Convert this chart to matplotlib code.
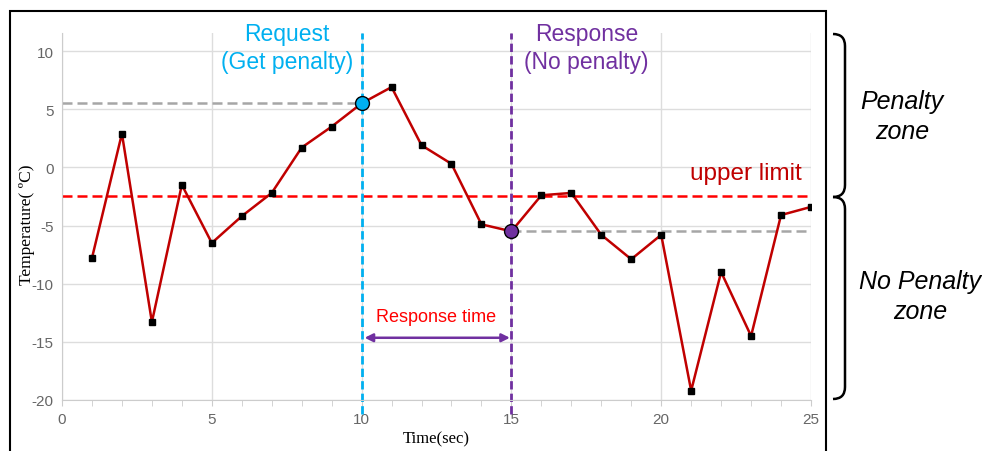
import matplotlib
matplotlib.use("Agg")
import matplotlib.pyplot as plt
from matplotlib.path import Path
from matplotlib.patches import PathPatch, Rectangle

# readings from the chart
time_s = list(range(1, 26))
temperature = [-7.8, 2.9, -13.3, -1.5, -6.5, -4.2, -2.2, 1.7, 3.5, 5.5,
               6.9, 1.9, 0.3, -4.9, -5.5, -2.4, -2.2, -5.8, -7.9, -5.8,
               -19.2, -9.0, -14.5, -4.1, -3.4]
upper_limit = -2.5
request_t = 10
response_t = 15
x_ticks = [0, 5, 10, 15, 20, 25]
y_ticks = [-20, -15, -10, -5, 0, 5, 10]

W, H = 982, 452
plt.rcParams['font.family'] = ['Liberation Sans', 'DejaVu Sans']
plt.rcParams['axes.unicode_minus'] = False

fig = plt.figure(figsize=(W / 100, H / 100), dpi=100)
ax = fig.add_axes([62 / W, 1 - 401 / H, (811 - 62) / W, (401 - 34) / H])


def px(x, y):
    return (x / W, 1 - y / H)


ax.set_xlim(0, 25)
ax.set_ylim(-20, 11.55)
ax.set_xticks(x_ticks)
ax.set_xticks(time_s, minor=True)
ax.set_yticks(y_ticks)
ax.grid(True, color='#dddddd', linewidth=1)
ax.set_axisbelow(True)
for s in ['top', 'right']:
    ax.spines[s].set_visible(False)
for s in ['left', 'bottom']:
    ax.spines[s].set_color('#cccccc')
ax.tick_params(axis='x', which='both', length=4, color='#cccccc',
               labelsize=11, labelcolor='#666666', pad=5)
ax.tick_params(axis='y', length=0, labelsize=11, labelcolor='#666666', pad=6)

ax.set_xlabel('Time(sec)', family='Liberation Serif', fontsize=12)
ax.xaxis.set_label_coords(0.5, -0.082)
ax.set_ylabel('Temperature( ºC)', family='Liberation Serif', fontsize=12.5)
ax.yaxis.set_label_coords(-0.036, 0.48)

# reference lines
ax.axhline(upper_limit, color='#ff0000', linestyle=(0, (4, 2)), linewidth=1.8)
ax.plot([0, request_t], [temperature[request_t - 1]] * 2, color='#a6a6a6',
        linestyle=(0, (4, 2)), linewidth=1.8)
ax.plot([response_t, 25], [temperature[response_t - 1]] * 2, color='#a6a6a6',
        linestyle=(0, (4, 2)), linewidth=1.8)
ax.axvline(request_t, ymin=-0.038, ymax=1, color='#00b0f0',
           linestyle=(0, (3, 1.5)), linewidth=2, clip_on=False)
ax.axvline(response_t, ymin=-0.038, ymax=1, color='#7030a0',
           linestyle=(0, (3, 1.5)), linewidth=2, clip_on=False)

# data
ax.plot(time_s, temperature, color='#c00000', linewidth=1.8, zorder=4)
ax.plot(time_s, temperature, 's', color='black', markersize=4, zorder=5)
ax.plot(request_t, temperature[request_t - 1], 'o', color='#00b0f0',
        markeredgecolor='black', markersize=10, zorder=6)
ax.plot(response_t, temperature[response_t - 1], 'o', color='#7030a0',
        markeredgecolor='black', markersize=10, zorder=6)

# texts
ax.text(7.5, 10.3, 'Request\n(Get penalty)', color='#00b0f0', fontsize=16.5,
        ha='center', va='center', linespacing=1.25)
ax.text(17.5, 10.3, 'Response\n(No penalty)', color='#7030a0', fontsize=16.5,
        ha='center', va='center', linespacing=1.25)
ax.text(24.7, -0.5, 'upper limit', color='#c00000', fontsize=17.5,
        ha='right', va='center')
ax.text(12.5, -12.8, 'Response time', color='#ff0000', fontsize=13,
        ha='center', va='center')
ax.annotate('', xy=(10.1, -14.65), xytext=(14.95, -14.65),
            arrowprops=dict(arrowstyle='<|-|>', color='#7030a0', lw=1.8,
                            mutation_scale=12, shrinkA=0, shrinkB=0))

# right-hand braces and zone labels
def brace(y0, y1):
    xa, xb, r = 833, 845, 12
    verts = [px(xa, y0), px(xb, y0), px(xb, y0 + r),
             px(xb, y1 - r), px(xb, y1), px(xa, y1)]
    codes = [Path.MOVETO, Path.CURVE3, Path.CURVE3,
             Path.LINETO, Path.CURVE3, Path.CURVE3]
    fig.add_artist(PathPatch(Path(verts, codes), fill=False, lw=1.8,
                             edgecolor='black', transform=fig.transFigure))


brace(35, 198)
brace(198, 400)
fig.text(*px(902, 117), 'Penalty\nzone', fontsize=18, style='italic',
         ha='center', va='center', linespacing=1.35)
fig.text(*px(920, 297), 'No Penalty\nzone', fontsize=18, style='italic',
         ha='center', va='center', linespacing=1.35)

# outer frame
fig.add_artist(Rectangle(px(10, 470), (826 - 10) / W, (470 - 12) / H,
                         fill=False, edgecolor='black', lw=1.5,
                         transform=fig.transFigure))

fig.savefig('out.png', dpi=100)
